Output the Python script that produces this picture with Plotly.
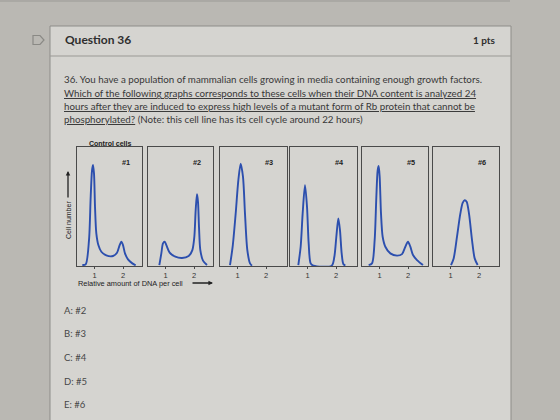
import plotly.graph_objects as go

W, H = 560, 420

# ---------------- data ----------------
# x: relative amount of DNA per cell, y: cell number (relative, 0-100)
panel_labels = ["#1", "#2", "#3", "#4", "#5", "#6"]
tick_vals = [1, 2]
tick_text = ["1", "2"]

x1 = [0.573, 0.69, 0.807, 0.866, 0.912, 0.947, 0.983, 1.018, 1.064, 1.135, 1.24, 1.415, 1.649, 1.79, 1.883, 1.942, 2.0, 2.07, 2.175, 2.327, 2.444]
y1 = [0.8, 1.4, 21.8, 58, 80, 85, 77.7, 49.7, 27.4, 17.6, 12, 8.9, 8.4, 11.2, 17.6, 20.4, 17.6, 10.6, 5.6, 2.2, 0.6]

x2 = [0.784, 0.854, 0.912, 0.971, 1.03, 1.146, 1.345, 1.579, 1.813, 1.942, 2.012, 2.059, 2.105, 2.14, 2.175, 2.222, 2.316, 2.456]
y2 = [0.8, 10.6, 19, 20.4, 17.6, 11.2, 7.8, 6.7, 8.4, 13.4, 24.6, 47, 60.3, 54, 33, 13.4, 4.5, 0.8]

x3 = [0.737, 0.83, 0.936, 1.029, 1.111, 1.193, 1.263, 1.345, 1.439, 1.509]
y3 = [0.8, 16.2, 44, 72, 86, 74.9, 44, 13.4, 2.2, 0.3]

x4 = [0.678, 0.76, 0.83, 0.912, 0.983, 1.041, 1.111, 1.205, 1.848, 1.942, 2.012, 2.082, 2.14, 2.199, 2.257, 2.327]
y4 = [0.8, 16.2, 44, 67.9, 49.7, 19, 2.2, 0.3, 0.3, 7.8, 24.6, 40, 30, 10.6, 1.7, 0.3]

x5 = [0.62, 0.737, 0.83, 0.889, 0.936, 0.971, 1.006, 1.053, 1.111, 1.205, 1.38, 1.614, 1.79, 1.907, 2.0, 2.082, 2.176, 2.316, 2.526]
y5 = [0.8, 2.2, 21.8, 58, 80.4, 84, 74.9, 44, 24.6, 16.2, 10.6, 8.7, 10, 16.2, 20.4, 16.2, 9.2, 5, 0.8]

x6 = [1.018, 1.111, 1.228, 1.345, 1.427, 1.497, 1.567, 1.649, 1.755, 1.848, 1.953]
y6 = [0.8, 6.4, 24.6, 44, 53, 55.3, 53.9, 44, 21.8, 6.4, 0.8]

curves_x = [x1, x2, x3, x4, x5, x6]
curves_y = [y1, y2, y3, y4, y5, y6]

answers = ["A: #2", "B: #3", "C: #4", "D: #5", "E: #6"]

question_lines = [
    "36. You have a population of mammalian cells growing in media containing enough growth factors.",
    "<u>Which of the following graphs corresponds to these cells when their DNA content is analyzed 24</u>",
    "<u>hours after they are induced to express high levels of a mutant form of Rb protein that cannot be</u>",
    "<u>phosphorylated?</u> (Note: this cell line has its cell cycle around 22 hours)",
]

# ---------------- layout helpers ----------------
def xp(px):
    return px / W

def yp(py):
    return 1 - py / H

panel_px = [(77, 142), (148, 213), (220, 287), (290, 357), (362, 428), (433, 499)]
p_top, p_bot = 147, 266
xmin = 0.386
px_per_unit = 28.5

BLUE = "#2c4fae"
FRAME = "#4a4a4a"
TXT = "#383838"
UI_FONT = "Lato"
FIG_FONT = "Liberation Sans"

fig = go.Figure()
layout = {}
annotations = []
shapes = []

for i in range(6):
    k = i + 1
    xa = "x" if k == 1 else f"x{k}"
    ya = "y" if k == 1 else f"y{k}"
    fig.add_trace(go.Scatter(
        x=curves_x[i], y=curves_y[i], mode="lines",
        line=dict(color=BLUE, width=1.9, shape="spline", smoothing=0.8),
        xaxis=xa, yaxis=ya, hoverinfo="skip", showlegend=False))
    L, R = panel_px[i]
    xmax = xmin + (R - L) / px_per_unit
    layout[f"xaxis{k}"] = dict(
        domain=[xp(L), xp(R)], range=[xmin, xmax], anchor=ya,
        showline=True, mirror=True, linecolor=FRAME, linewidth=1.4,
        showgrid=False, zeroline=False,
        tickvals=tick_vals, ticktext=tick_text, ticks="outside",
        ticklen=2, tickwidth=1, tickcolor=FRAME,
        tickfont=dict(family=FIG_FONT, size=7.5, color="#333"))
    layout[f"yaxis{k}"] = dict(
        domain=[yp(p_bot), yp(p_top)], range=[0, 100], anchor=xa,
        showline=True, mirror=True, linecolor=FRAME, linewidth=1.4,
        showgrid=False, zeroline=False, showticklabels=False, ticks="")
    annotations.append(dict(
        x=2.12, y=87, xref=xa, yref=ya, text=f"<b>{panel_labels[i]}</b>",
        showarrow=False, font=dict(family=FIG_FONT, size=7.3, color="#222")))

# question box
shapes.append(dict(type="rect", xref="paper", yref="paper",
                   x0=xp(50), x1=xp(511), y0=yp(440), y1=yp(26),
                   fillcolor="#d5d4d0", line=dict(color="#8e8d89", width=1),
                   layer="below"))
shapes.append(dict(type="line", xref="paper", yref="paper",
                   x0=xp(50), x1=xp(511), y0=yp(56), y1=yp(56),
                   line=dict(color="#9a9995", width=1), layer="below"))
# previous box edge at the top
shapes.append(dict(type="line", xref="paper", yref="paper",
                   x0=0, x1=xp(510), y0=yp(1), y1=yp(1),
                   line=dict(color="#9a9995", width=1), layer="below"))
# flag icon
def pth(pts):
    s = "M " + " L ".join(f"{xp(a):.5f},{yp(b):.5f}" for a, b in pts) + " Z"
    return s
shapes.append(dict(type="path", xref="paper", yref="paper",
                   path=pth([(33, 35.5), (40, 35.5), (44, 40), (40, 44.5), (33, 44.5)]),
                   line=dict(color="#8a8985", width=1.2), fillcolor="rgba(0,0,0,0)"))

# header texts
annotations.append(dict(x=xp(63), y=yp(39), xref="paper", yref="paper",
                        xanchor="left", yanchor="middle", showarrow=False,
                        text="<b>Question 36</b>",
                        font=dict(family=UI_FONT, size=12, color="#2e2e2e")))
annotations.append(dict(x=xp(498), y=yp(40), xref="paper", yref="paper",
                        xanchor="right", yanchor="middle", showarrow=False,
                        text="<b>1 pts</b>",
                        font=dict(family=UI_FONT, size=10, color="#2e2e2e")))

# question text
line_y = [79, 93, 106, 119]
for t, yy in zip(question_lines, line_y):
    annotations.append(dict(x=xp(62), y=yp(yy), xref="paper", yref="paper",
                            xanchor="left", yanchor="middle", showarrow=False,
                            text=t, font=dict(family=UI_FONT, size=9.75, color=TXT)))

# figure labels
annotations.append(dict(x=xp(87), y=yp(143), xref="paper", yref="paper",
                        xanchor="left", yanchor="middle", showarrow=False,
                        text="<b>Control cells</b>",
                        font=dict(family=FIG_FONT, size=7, color="#222")))
annotations.append(dict(x=xp(76), y=yp(283), xref="paper", yref="paper",
                        xanchor="left", yanchor="middle", showarrow=False,
                        text="Relative amount of DNA per cell",
                        font=dict(family=FIG_FONT, size=7.4, color="#222")))
annotations.append(dict(x=xp(213), y=yp(283), xref="paper", yref="paper",
                        ax=-22, ay=0, axref="pixel", ayref="pixel",
                        text="", showarrow=True, arrowhead=2, arrowsize=0.7,
                        arrowwidth=1.3, arrowcolor="#222"))
annotations.append(dict(x=xp(68), y=yp(220), xref="paper", yref="paper",
                        xanchor="center", yanchor="middle", showarrow=False,
                        text="Cell number", textangle=-90,
                        font=dict(family=FIG_FONT, size=7, color="#222")))
annotations.append(dict(x=xp(68), y=yp(171), xref="paper", yref="paper",
                        ax=0, ay=28, axref="pixel", ayref="pixel",
                        text="", showarrow=True, arrowhead=2, arrowsize=0.7,
                        arrowwidth=1.3, arrowcolor="#222"))

# answers
ans_y = [310, 333, 357, 381, 404]
for t, yy in zip(answers, ans_y):
    annotations.append(dict(x=xp(62), y=yp(yy), xref="paper", yref="paper",
                            xanchor="left", yanchor="middle", showarrow=False,
                            text=t, font=dict(family=UI_FONT, size=9.5, color="#474747")))

fig.update_layout(
    width=W, height=H, margin=dict(l=0, r=0, t=0, b=0),
    paper_bgcolor="#bab8b3", plot_bgcolor="rgba(0,0,0,0)",
    showlegend=False, annotations=annotations, shapes=shapes, **layout)

fig.write_html("out.html")
